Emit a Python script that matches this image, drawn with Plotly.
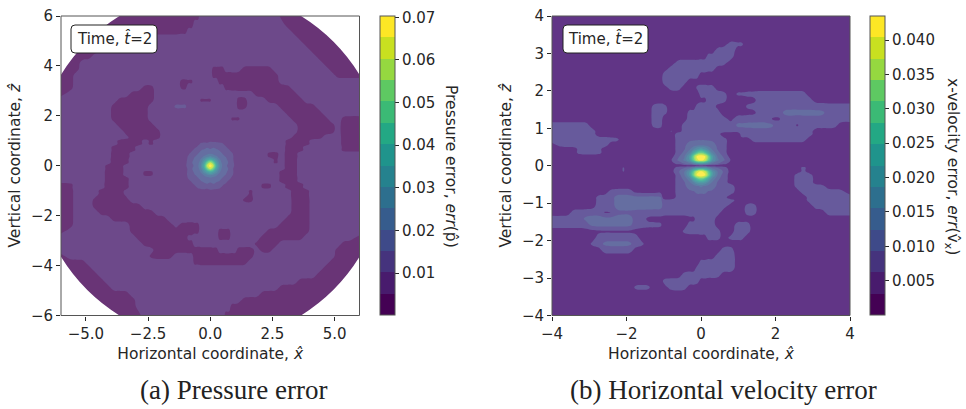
import re
import plotly.graph_objects as go

# ---- colour bands (bottom to top) ----
BANDS = ["#440154", "#481b6d", "#45337d", "#3e4a89", "#365c8d", "#2d6f8e", "#25828e",
         "#1f948c", "#23a884", "#3bba75", "#5ec962", "#95d840", "#c8e020", "#fde725"]
ALPHA = 0.8
V_LOW_COLOURS = ["#5a2a7e", "#613586", "#675a9c"]  # fine hatching averaged out, lowest velocity bands

# ---- pressure panel: run-length coded error classes, top row first ----
P_EXTENT = 6.0
P_BLANK_CORNER = 3.65  # where the circular domain leaves the frame
P_CORNER_BULGE = 5.1
P_ROWS = [
    "9. 13# 13- 4# 9.", "7. 14# 15- 5# 7.", "6. 14# 17- 5# 6.", "5. 8# 25- 5# 5.",
    "4. 6# 29- 5# 4.", "3. 4# 33- 5# 3.", "2. 3# 36- 5# 2.", "1. 2# 39- 5# 1.",
    "1. 2# 21- 2# 3- 5# 9- 4# 1.", "2# 22- 11# 9- 4#", "2# 17- 2# 4- 10# 13-",
    "2# 11- 2# 4- 1# 6- 11# 11-", "1# 10- 4# 16- 7# 10-", "9- 6# 7- 2# 4- 2# 3- 6# 9-",
    "8- 6# 4- 2+ 8- 2# 5- 6# 7-", "8- 6# 22- 6# 6-", "8- 6# 13- 2# 8- 6# 2- 3#",
    "9- 6# 23- 6# 1- 3#", "10- 6# 22- 6# 1- 3#", "11- 5# 21- 5# 3- 3#",
    "9- 4# 1- 1# 21- 4# 5- 3#", "8- 4# 24- 3# 6- 3#", "8- 3# 22- 2# 1- 2# 10-",
    "8- 3# 23- 1# 1- 2# 10-", "7- 3# 26- 2# 10-", "7- 3# 3- 2# 20- 3# 10-",
    "7- 4# 24- 3# 10-", "2# 5- 4# 21- 2# 2- 3# 9-", "2# 4- 4# 20- 1# 6- 3# 8-",
    "2# 3- 6# 18- 2# 6- 3# 8-", "2# 3- 8# 24- 3# 8-", "2# 4- 9# 22- 3# 8-",
    "2# 6- 9# 19- 4# 8-", "2# 9- 7# 1- 3# 13- 5# 8-", "1# 10- 11# 3- 2# 6- 7# 8-",
    "12- 8# 5- 2# 5- 7# 8- 1#", "13- 8# 10- 4# 10- 3#", "15- 10# 3- 3# 1- 2# 10- 4#",
    "1# 13- 4# 3- 10# 13- 4#", "1. 3# 17- 9# 13- 4# 1.", "1. 4# 37- 5# 1.",
    "2. 4# 35- 5# 2.", "3. 4# 31- 7# 3.", "4. 4# 27- 9# 4.", "5. 6# 21- 11# 5.",
    "6. 6# 17- 13# 6.", "7. 5# 15- 14# 7.", "9. 4# 13- 13# 9.",
]
P_LEVELS = {".": 0.003, "#": 0.003, "-": 0.0078, "+": 0.0125}

P_CORE_X = [-1, -0.875, -0.75, -0.625, -0.5, -0.375, -0.25, -0.125, 0,
            0.125, 0.25, 0.375, 0.5, 0.625, 0.75, 0.875, 1]
P_CORE_Y = P_CORE_X
P_CORE = [  # 1e-3 units, bottom row first
    [7, 7, 7, 7, 7, 8, 8, 9, 9, 9, 8, 8, 7, 7, 7, 7, 7],
    [7, 7, 7, 8, 11, 12, 13, 11, 13, 12, 12, 11, 9, 8, 7, 7, 7],
    [7, 7, 8, 11, 12, 13, 14, 15, 14, 15, 13, 13, 11, 9, 8, 7, 7],
    [7, 8, 11, 12, 13, 15, 16, 16, 16, 16, 16, 15, 13, 12, 9, 8, 7],
    [7, 11, 12, 13, 15, 16, 17, 18, 19, 18, 17, 16, 15, 13, 12, 9, 7],
    [8, 12, 13, 15, 16, 18, 21, 24, 26, 24, 21, 18, 16, 15, 13, 11, 8],
    [8, 12, 14, 16, 17, 21, 28, 34, 38, 34, 28, 21, 17, 16, 14, 12, 8],
    [9, 11, 15, 16, 18, 24, 34, 50, 60, 50, 34, 24, 18, 16, 15, 11, 9],
    [9, 13, 14, 16, 19, 26, 38, 60, 70, 60, 38, 26, 19, 16, 14, 13, 9],
    [9, 12, 15, 16, 18, 24, 34, 50, 60, 50, 34, 24, 18, 16, 15, 12, 9],
    [8, 12, 14, 16, 17, 21, 28, 34, 38, 34, 28, 21, 17, 16, 14, 12, 8],
    [8, 11, 13, 15, 16, 18, 21, 24, 26, 24, 21, 18, 16, 15, 13, 12, 8],
    [7, 9, 12, 13, 15, 16, 17, 18, 19, 18, 17, 16, 15, 13, 12, 11, 7],
    [7, 8, 9, 12, 13, 15, 16, 16, 16, 16, 16, 15, 13, 12, 11, 8, 7],
    [7, 7, 8, 9, 11, 13, 13, 15, 14, 15, 14, 13, 12, 11, 8, 7, 7],
    [7, 7, 7, 8, 9, 11, 12, 11, 13, 12, 13, 12, 11, 8, 7, 7, 7],
    [7, 7, 7, 7, 7, 8, 8, 9, 9, 9, 8, 8, 7, 7, 7, 7, 7],
]
P_RANGE = [0.0002, 0.0703]
P_TICKS = [0.01, 0.02, 0.03, 0.04, 0.05, 0.06, 0.07]

# ---- velocity panel ----
V_EXTENT = 4.0
V_ROWS = [
    "48#", "48#", "48#", "48#", "28# 3- 17#", "26# 4- 18#", "25# 4- 19#", "20# 8- 20#",
    "19# 7- 22#", "18# 6- 24#", "18# 4- 26#", "19# 2- 2# 3- 22#", "24# 4- 2# 11- 7#",
    "25# 3- 5# 9- 6#", "16# 3- 4# 3- 5# 17-", "16# 3- 3# 5- 6# 4- 7+ 4-",
    "16# 2- 4# 6- 1# 6- 2# 11-", "6- 10# 2- 3# 9- 6+ 3- 1# 6- 2#", "7- 12# 1- 1# 21- 6#",
    "11- 10# 7- 4# 9- 7#", "1# 8- 12# 7- 20#", "4# 4- 12# 9- 19#", "19# 10- 19#", "19# 10- 19#",
    "11# 1- 7# 10- 11# 1- 7#", "19# 10- 10# 3- 6#", "19# 10- 10# 3- 6#", "20# 9- 10# 5- 4#",
    "9# 4- 7# 10- 10# 7- 1#", "7# 3- 8+ 12- 11# 7-", "7# 3- 8+ 10- 3# 2- 9# 6-",
    "3# 5- 2# 17- 4# 2- 11# 4-", "5- 8+ 2- 8# 3- 22#", "6- 7+ 5- 4# 4- 3# 3- 16#",
    "21# 6- 2# 3- 16#", "7# 7- 11# 2- 1# 3- 17#", "6# 2- 5+ 2- 33#", "8# 5- 14# 2- 19#",
    "26# 4- 18#", "24# 6- 18#", "23# 7- 18#", "21# 6- 21#", "18# 6- 24#",
    "13# 3- 3# 3- 26#", "48#", "48#", "48#", "48#",
]
V_LEVELS = {"#": 0.0045, "-": 0.0078, "+": 0.0112}

V_CORE_X = [-1, -0.8, -0.6, -0.45, -0.3, -0.2, -0.1, 0, 0.1, 0.2, 0.3, 0.45, 0.6, 0.8, 1]
V_CORE_Y = [-0.85, -0.7, -0.55, -0.45, -0.35, -0.25, -0.15, -0.05, 0,
            0.05, 0.15, 0.25, 0.35, 0.45, 0.55, 0.7, 0.85]
V_CORE = [  # 1e-3 units, bottom row first
    [4, 4, 8, 8, 8, 8, 8, 8, 8, 8, 8, 8, 8, 4, 4],
    [4, 4, 8, 9, 9, 9, 10, 10, 10, 9, 9, 9, 8, 8, 4],
    [4, 4, 8, 9, 10, 11, 12, 13, 12, 11, 10, 9, 8, 8, 4],
    [4, 4, 8, 9, 12, 15, 19, 20, 19, 15, 12, 9, 8, 5, 4],
    [4, 4, 8, 10, 15, 22, 28, 31, 28, 22, 15, 10, 8, 5, 4],
    [4, 4, 8, 12, 20, 32, 42, 44, 42, 32, 20, 12, 8, 5, 4],
    [4, 5, 9, 12, 19, 29, 38, 41, 38, 29, 19, 12, 9, 5, 4],
    [4, 4, 8, 9, 11, 14, 16, 17, 16, 14, 11, 9, 8, 4, 4],
    [4, 4, 4, 4, 4, 4, 5, 5, 5, 4, 4, 4, 4, 4, 4],
    [4, 5, 7, 9, 11, 14, 17, 18, 17, 14, 11, 9, 7, 5, 4],
    [4, 6, 10, 13, 19, 30, 39, 42, 39, 30, 19, 13, 10, 6, 4],
    [4, 5, 9, 12, 20, 32, 42, 44, 42, 32, 20, 12, 9, 5, 4],
    [4, 4, 8, 10, 15, 22, 28, 31, 28, 22, 15, 10, 8, 4, 4],
    [4, 4, 8, 9, 12, 15, 18, 20, 18, 15, 12, 9, 8, 4, 4],
    [4, 4, 8, 9, 10, 11, 12, 12, 12, 11, 10, 9, 8, 4, 4],
    [4, 4, 8, 8, 9, 9, 9, 9, 9, 9, 9, 8, 8, 4, 4],
    [4, 4, 8, 8, 8, 8, 8, 8, 8, 8, 8, 8, 4, 4, 4],
]
V_RANGE = [0.0, 0.0435]
V_TICKS = [0.005, 0.010, 0.015, 0.020, 0.025, 0.030, 0.035, 0.040]

P_TITLE = "Pressure error, <i>err</i>(p\u0302)"
V_TITLE = "x-velocity error, <i>err</i>(v\u0302<sub>x</sub>)"
X_TITLE = "Horizontal coordinate, <i>x\u0302</i>"
Y_TITLE = "Vertical coordinate, <i>z\u0302</i>"
TIME_LABEL = "Time, <i>t\u0302</i>=2"
CAPTIONS = ["(a) Pressure error", "(b) Horizontal velocity error"]

W, H = 966, 409
SANS = "DejaVu Sans"
INK = "#262626"
SPINE = "#555555"


def decode(rows, levels, n=48):
    grid = []
    for row in rows:
        vals = []
        for count, ch in re.findall(r"(\d+)([.#+-])", row):
            vals += [levels[ch]] * int(count)
        grid.append((vals + [vals[-1]] * n)[:n])
    return grid[::-1]


def soften(grid):
    """Round the staircase of the hand-read cells so the level curves run smoothly."""
    n = len(grid)
    w = (1 / 8, 6 / 8, 1 / 8)
    at = lambda r, c: grid[min(max(r, 0), n - 1)][min(max(c, 0), n - 1)]
    return [[sum(w[a] * w[b] * at(r + a - 1, c + b - 1) for a in range(3) for b in range(3))
             for c in range(n)] for r in range(n)]


def centres(extent, n=48):
    step = 2 * extent / n
    pts = [-extent + step * (i + 0.5) for i in range(n)]
    pts[0], pts[-1] = -extent, extent  # contour fill reaches the frame
    return pts


def splice(grid, xy, cx, cy, core):
    """One field on one grid: the finely read core replaces the coarse cells it covers."""
    near = lambda v: min(range(len(xy)), key=lambda i: abs(xy[i] - v))
    xs = [v for v in xy if v < cx[0]] + cx + [v for v in xy if v > cx[-1]]
    ys = [v for v in xy if v < cy[0]] + cy + [v for v in xy if v > cy[-1]]
    z = []
    for y in ys:
        row = []
        for x in xs:
            if x in cx and y in cy:
                row.append(core[cy.index(y)][cx.index(x)] / 1000)
            else:
                row.append(grid[near(y)][near(x)])
        z.append(row)
    return xs, ys, z


def blend(hex_colour):
    c = [int(hex_colour[i:i + 2], 16) for i in (1, 3, 5)]
    return "rgb(%d,%d,%d)" % tuple(round(ALPHA * v + (1 - ALPHA) * 255) for v in c)


def stepped(colours):
    n = len(colours)
    out = []
    for i, c in enumerate(colours):
        out += [[i / n, c], [(i + 1) / n, c]]
    return out


def px_x(v):
    return v / W


def px_y(v):
    return 1 - v / H


P_DISPLAY = [blend(c) for c in BANDS]
V_DISPLAY = V_LOW_COLOURS + [blend(c) for c in BANDS[3:]]

fig = go.Figure()
panels = [
    dict(xa="x", ya="y", rows=P_ROWS, levels=P_LEVELS, extent=P_EXTENT, cx=P_CORE_X, cy=P_CORE_Y, core=P_CORE,
         rng=P_RANGE, ticks=P_TICKS, fmt=".2f", display=P_DISPLAY),
    dict(xa="x2", ya="y2", rows=V_ROWS, levels=V_LEVELS, extent=V_EXTENT, cx=V_CORE_X, cy=V_CORE_Y, core=V_CORE,
         rng=V_RANGE, ticks=V_TICKS, fmt=".3f", display=V_DISPLAY),
]
CB_X = [380, 870]
for p, cbx in zip(panels, CB_X):
    grid = soften(decode(p["rows"], p["levels"]))
    xy = centres(p["extent"])
    xs, ys, z = splice(grid, xy, p["cx"], p["cy"], p["core"])
    lo, hi = p["rng"]
    levels = dict(coloring="fill", showlines=False, start=lo, end=hi, size=(hi - lo) / 14)
    # colour bar carrier (same field, invisible)
    fig.add_trace(go.Heatmap(
        x=xy, y=xy, z=grid, xaxis=p["xa"], yaxis=p["ya"], opacity=0, hoverinfo="skip",
        zmin=lo, zmax=hi, colorscale=stepped(BANDS),
        colorbar=dict(
            x=px_x(cbx), xref="paper", xanchor="left", y=px_y(165.5), yref="paper", yanchor="middle",
            len=299 / H, lenmode="fraction", thickness=15, thicknessmode="pixels", xpad=0, ypad=0,
            outlinecolor=SPINE, outlinewidth=1, ticks="outside", ticklen=4, tickcolor=INK,
            tickvals=p["ticks"], tickformat=p["fmt"], tickfont=dict(family=SANS, size=15, color=INK),
        ),
    ))
    fig.add_trace(go.Contour(
        x=xs, y=ys, z=z, xaxis=p["xa"], yaxis=p["ya"], showscale=False, autocontour=False,
        contours=levels, line=dict(width=0, smoothing=1.3),
        zmin=lo, zmax=hi, colorscale=stepped(p["display"]),
    ))


def axis(domain, rng, ticks, fmt, title, standoff, anchor):
    return dict(domain=domain, range=rng, tickvals=ticks, tickformat=fmt, anchor=anchor, showgrid=False,
                zeroline=False, showline=False, ticks="outside",
                ticklen=4, tickcolor=INK, tickfont=dict(family=SANS, size=15, color=INK),
                title=dict(text=title, standoff=standoff, font=dict(family=SANS, size=15.5, color=INK)))


X_DOMAINS = [[61 / W, 359.5 / W], [552 / W, 850 / W]]
Y_DOMAIN = [px_y(315.5), px_y(16)]


def rounded(x0, y0, x1, y1, r=4):
    X = px_x
    Y = px_y
    return (f"M {X(x0 + r)} {Y(y0)} L {X(x1 - r)} {Y(y0)} Q {X(x1)} {Y(y0)} {X(x1)} {Y(y0 + r)} "
            f"L {X(x1)} {Y(y1 - r)} Q {X(x1)} {Y(y1)} {X(x1 - r)} {Y(y1)} L {X(x0 + r)} {Y(y1)} "
            f"Q {X(x0)} {Y(y1)} {X(x0)} {Y(y1 - r)} L {X(x0)} {Y(y0 + r)} Q {X(x0)} {Y(y0)} {X(x0 + r)} {Y(y0)} Z")


# white corners outside the circular pressure domain
shapes = []
E, C, M = P_EXTENT, P_BLANK_CORNER, P_CORNER_BULGE
for sx in (-1, 1):
    for sy in (-1, 1):
        shapes.append(dict(type="path", xref="x", yref="y", fillcolor="white", line=dict(width=0), layer="above",
                           path=f"M {sx * C} {sy * E} Q {sx * M} {sy * M} {sx * E} {sy * C} L {sx * E} {sy * E} Z"))
# frames
for xr, yr in (("x domain", "y domain"), ("x2 domain", "y2 domain")):
    shapes.append(dict(type="rect", xref=xr, yref=yr, x0=0, x1=1, y0=0, y1=1, layer="above",
                       line=dict(color=SPINE, width=1)))

boxes = [(71, 25, 157, 53), (563, 25, 648, 53)]
shapes += [dict(type="path", xref="paper", yref="paper", path=rounded(*b), fillcolor="white",
                line=dict(color="#222222", width=1), layer="above") for b in boxes]
annotations = [dict(x=px_x((b[0] + b[2]) / 2), y=px_y((b[1] + b[3]) / 2), xref="paper", yref="paper", text=TIME_LABEL,
                    xanchor="center", yanchor="middle", showarrow=False,
                    font=dict(family=SANS, size=15, color=INK)) for b in boxes]
for text, cx in zip(CAPTIONS, (233, 723.5)):
    annotations.append(dict(x=px_x(cx), y=px_y(390), xref="paper", yref="paper", text=text, showarrow=False,
                            xanchor="center", yanchor="middle",
                            font=dict(family="Liberation Serif", size=27, color="#222222")))
for text, cx in zip((P_TITLE, V_TITLE), (451, 952)):
    annotations.append(dict(x=px_x(cx), y=px_y(166), xref="paper", yref="paper", text=text, showarrow=False,
                            textangle=90, xanchor="center", yanchor="middle",
                            font=dict(family=SANS, size=15.5, color=INK)))

fig.update_layout(
    width=W, height=H, margin=dict(l=0, r=0, t=0, b=0, autoexpand=False), paper_bgcolor="white", plot_bgcolor="white",
    xaxis=axis(X_DOMAINS[0], [-6, 6], [-5, -2.5, 0, 2.5, 5], ".1f", X_TITLE, 6, "y"),
    yaxis=axis(Y_DOMAIN, [-6, 6], [-6, -4, -2, 0, 2, 4, 6], "d", Y_TITLE, 6, "x"),
    xaxis2=axis(X_DOMAINS[1], [-4, 4], [-4, -2, 0, 2, 4], "d", X_TITLE, 6, "y2"),
    yaxis2=axis(Y_DOMAIN, [-4, 4], [-4, -3, -2, -1, 0, 1, 2, 3, 4], "d", Y_TITLE, 6, "x2"),
    shapes=shapes, annotations=annotations, showlegend=False,
)
fig.write_html("out.html", config={"displayModeBar": False},
               post_script="document.body.style.margin='0';document.documentElement.style.overflow='hidden';")
